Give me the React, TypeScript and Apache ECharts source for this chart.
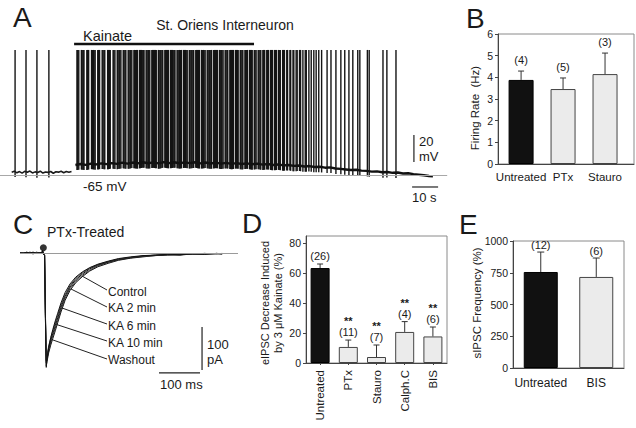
import React, { useEffect, useRef } from "react";
import * as echarts from "echarts";

const FONT = '"Liberation Sans", Arial, Helvetica, sans-serif';
const INK = "#1a1a1a";
const DARK_BAR = "#111111";
const LIGHT_BAR = "#ebebeb";

// ---------- Panel A: current-clamp trace (t in s, V in mV) ----------
const A_SPIKES = [
  0.8, 5.0, 9.2, 13.8,
  24.6, 24.9, 25.3, 26.3, 26.6, 27.0, 27.3, 28.4, 28.7, 29.1, 30.2, 30.5, 30.9, 31.2, 31.6, 32.6, 32.9,
  33.3, 34.3, 34.6, 35.0, 35.3, 36.4, 36.7, 37.1, 37.4, 38.5, 38.8, 39.2, 40.1, 40.4, 40.8, 41.1, 41.5,
  42.4, 42.7, 43.1, 43.4, 44.3, 44.6, 45.0, 45.3, 45.7, 46.5, 46.8, 47.2, 47.5, 47.9, 48.7, 49.0, 49.4,
  49.7, 50.1, 50.4, 51.2, 51.5, 51.9, 52.2, 52.6, 53.4, 53.7, 54.1, 54.4, 54.8, 55.1, 55.9, 56.2, 56.6,
  56.9, 57.3, 57.6, 58.4, 58.7, 59.1, 59.4, 59.8, 60.6, 60.9, 61.3, 61.6, 62.0, 62.3, 63.1, 63.4, 63.8,
  64.1, 64.5, 64.8, 65.6, 65.9, 66.3, 66.6, 67.0, 67.8, 68.1, 68.5, 68.8, 69.2, 69.5, 70.3, 70.6, 71.0,
  71.3, 71.7, 72.5, 72.8, 73.2, 73.5, 73.9, 74.7, 75.0, 75.4, 75.7, 76.1, 76.4, 77.2, 77.5, 77.9, 78.2,
  78.6, 79.4, 79.7, 80.1, 80.4, 80.8, 81.6, 81.9, 82.3, 82.6, 83.4, 83.7, 84.1, 84.4, 84.8, 85.6, 85.9,
  86.3, 86.6, 87.4, 87.7, 88.1, 88.4, 89.2, 89.5, 89.9, 90.2, 91.0, 91.3, 91.7, 92.0, 92.8, 93.1, 93.5,
  94.3, 94.6, 95.0, 95.3, 96.1, 96.4, 96.8, 97.6, 97.9, 98.3, 99.1, 99.4, 99.8, 100.6, 100.9, 101.3,
  102.1, 102.4, 102.8, 103.7, 104.0, 104.4, 105.3, 105.6, 106.5, 106.8, 107.7, 108.0, 108.9, 109.3,
  110.2, 110.6, 111.5, 112.4, 112.8, 113.8, 114.7, 115.7, 116.6, 117.6, 118.7,
  120.8, 122.3, 124.2, 126.1, 127.6, 129.2, 130.7, 132.6, 133.4,
  136.3, 137.0, 142.3, 143.8, 147.3,
];
const A_TRACE_PRE = [
  [-0.5, -62.9], [0.5, -62.2], [1.5, -63.4], [2.5, -62.5], [3.5, -63.6], [4.5, -62.3], [5.5, -63.0],
  [6.5, -62.1], [7.5, -63.5], [8.5, -62.7], [9.5, -63.2], [10.5, -62.2], [11.5, -63.6], [12.5, -62.8],
  [13.5, -63.1], [14.5, -62.4], [15.5, -63.7], [16.5, -62.6], [17.5, -62.9], [18.5, -62.3], [19.5, -63.3],
  [20.5, -62.5], [21.5, -63.0], [22.5, -62.4],
];
const A_TRACE_KA = [
  [24, -57.6], [26, -56.9], [28, -57.5], [30, -56.6], [32, -57.2], [34, -56.4], [36, -57.0], [38, -56.2],
  [40, -56.8], [42, -55.9], [44, -56.6], [46, -55.8], [48, -56.4], [50, -55.6], [52, -56.3], [54, -55.7],
  [56, -56.4], [58, -55.5], [60, -56.2], [62, -55.6], [64, -56.3], [66, -55.7], [68, -56.2], [70, -55.6],
  [72, -56.4], [74, -55.8], [76, -56.5], [78, -55.9], [80, -56.6], [82, -56.0], [84, -56.8], [86, -56.2],
  [88, -56.9], [90, -56.4], [92, -57.1], [94, -56.6], [96, -57.3], [98, -56.9], [100, -57.6], [102, -57.2],
  [104, -57.9], [106, -57.6], [108, -58.3], [110, -58.0], [112, -58.7], [114, -58.4], [116, -59.1],
  [118, -58.9], [120, -59.6], [122, -59.4], [124, -60.2], [126, -60.5], [128, -60.9], [130, -61.3],
  [132, -61.1], [134, -61.8], [136, -62.0], [138, -62.5], [140, -62.3], [142, -63.0], [144, -62.8],
  [146, -63.4], [148, -63.2], [150, -63.9], [152, -63.7], [154, -64.4], [156, -64.8], [158, -65.2],
  [160, -65.8], [161.5, -66.0],
];
const A_SPIKE_PEAK = 27.6;
const A_REST = -65;
const A_KAINATE = [[23.5, 32], [92.7, 32]];
const A_SCALE_V = [[154.2, -35.4], [154.2, -55.4]]; // 20 mV
const A_SCALE_T = [[153.5, -73.9], [163.5, -73.9]]; // 10 s

// ---------- Panel B ----------
const B_CATS = ["Untreated", "PTx", "Stauro"];
const B_MEAN = [3.88, 3.46, 4.15];
const B_ERR = [4.29, 3.97, 5.12];
const B_N = ["(4)", "(5)", "(3)"];

// ---------- Panel C: eIPSC traces (t in ms, I in pA) ----------
const C_T = [0, 8, 16, 24, 32, 40, 48, 53, 55, 57, 60, 62, 64, 66, 70, 75, 80, 86, 92, 100, 110, 122, 136, 152,
  170, 190, 215, 240, 270, 300, 330, 360, 390, 420, 450, 480, 493];
const C_CONTROL = [1, -1, 2, 0, -2, 1, 0, -1, 5, -2, -6, -150, -262, -252, -232, -214, -199, -181, -162, -137, -110, -87, -69, -55,
  -42, -32, -24, -17, -12, -9, -6, -4, -5, -2, -3, -1, -2];
const C_KA2 = [0, 1, -1, 2, 0, -1, 1, 0, 4, -1, -5, -145, -256, -246, -227, -209, -193, -175, -157, -132, -106, -83, -66, -52,
  -40, -30, -22, -16, -11, -8, -6, -5, -3, -3, -1, -2, -1];
const C_KA6 = [-1, 0, 1, -1, 1, 0, -1, 1, 5, -2, -6, -140, -252, -241, -221, -203, -187, -169, -151, -126, -101, -79, -62, -49,
  -37, -28, -21, -15, -11, -7, -5, -4, -4, -2, -2, -1, -2];
const C_KA10 = [1, 0, -1, 1, -1, 2, 0, -1, 4, -1, -5, -138, -249, -237, -216, -197, -181, -163, -145, -121, -97, -76, -59, -46,
  -35, -27, -20, -14, -10, -7, -5, -3, -3, -2, -1, -2, -1];
const C_WASH = [0, -1, 1, 0, 2, -1, 1, 0, 5, -2, -6, -152, -266, -248, -220, -197, -178, -158, -140, -116, -92, -72, -56, -44,
  -34, -26, -19, -13, -9, -6, -5, -3, -4, -2, -3, -1, -2];
const C_TRACES = [C_CONTROL, C_KA2, C_KA6, C_KA10, C_WASH];
const C_LABELS = ["Control", "KA 2 min", "KA 6 min", "KA 10 min", "Washout"];
const C_STIM = [[57, 12]];
const C_SCALE_I = [[444, -172], [444, -272]]; // 100 pA
const C_SCALE_T = [[339, -279], [439, -279]]; // 100 ms

// ---------- Panel D ----------
const D_CATS = ["Untreated", "PTx", "Stauro", "Calph.C", "BIS"];
const D_MEAN = [63.3, 10.7, 4.0, 20.7, 17.7];
const D_ERR = [66.0, 15.3, 12.0, 27.6, 24.0];
const D_N = ["(26)", "(11)", "(7)", "(4)", "(6)"];
const D_SIG = ["", "**", "**", "**", "**"];
const D_TICKS = [0, 20, 40, 60, 80];

// ---------- Panel E ----------
const E_CATS = ["Untreated", "BIS"];
const E_MEAN = [756, 717];
const E_ERR = [913, 866];
const E_N = ["(12)", "(6)"];

function baselineAt(t: number): number {
  const pts = t < 23 ? A_TRACE_PRE : A_TRACE_KA;
  if (t <= pts[0][0]) return pts[0][1];
  for (let i = 1; i < pts.length; i++) {
    if (t <= pts[i][0]) {
      const [t0, v0] = pts[i - 1];
      const [t1, v1] = pts[i];
      return v0 + ((v1 - v0) * (t - t0)) / (t1 - t0);
    }
  }
  return pts[pts.length - 1][1];
}

const txt = (text: string, x: number, y: number, size: number, opts: any = {}) => ({
  type: "text",
  x,
  y,
  rotation: opts.rotation || 0,
  silent: true,
  style: {
    text,
    fill: INK,
    font: `${opts.weight || "normal"} ${size}px ${FONT}`,
    textAlign: opts.align || "left",
    textVerticalAlign: "middle",
  },
});

const seg = (x1: number, y1: number, x2: number, y2: number) => ({
  type: "line",
  silent: true,
  shape: { x1, y1, x2, y2 },
  style: { stroke: "#222", lineWidth: 1 },
});

const plainLine = (xi: number, data: number[][], width = 1.2, color = "#222") => ({
  type: "line",
  xAxisIndex: xi,
  yAxisIndex: xi,
  data,
  symbol: "none",
  showSymbol: false,
  clip: false,
  silent: true,
  lineStyle: { color, width },
  z: 4,
});

function errSeries(idx: number, means: number[], errs: number[], ns: string[], sigs: string[] | null,
  capW: number, gap: number, fs: number) {
  return {
    type: "custom",
    xAxisIndex: idx,
    yAxisIndex: idx,
    data: errs.map((e, i) => [i, e]),
    z: 6,
    silent: true,
    renderItem: (params: any, api: any) => {
      const i = params.dataIndex;
      const x = api.value(0);
      const top = api.coord([x, errs[i]]);
      const base = api.coord([x, means[i]]);
      const children: any[] = [
        { type: "line", shape: { x1: base[0], y1: base[1], x2: top[0], y2: top[1] }, style: { stroke: "#333", lineWidth: 1 } },
        { type: "line", shape: { x1: top[0] - capW / 2, y1: top[1], x2: top[0] + capW / 2, y2: top[1] }, style: { stroke: "#333", lineWidth: 1 } },
        {
          type: "text", x: top[0], y: top[1] - gap,
          style: { text: ns[i], fill: INK, font: `${fs}px ${FONT}`, textAlign: "center", textVerticalAlign: "middle" },
        },
      ];
      if (sigs && sigs[i]) {
        children.push({
          type: "text", x: top[0], y: top[1] - gap - 11,
          style: { text: sigs[i], fill: INK, font: `bold ${fs}px ${FONT}`, textAlign: "center", textVerticalAlign: "middle" },
        });
      }
      return { type: "group", children };
    },
  };
}

const barItem = (v: any, i: number) => ({
  value: v,
  itemStyle: i === 0
    ? { color: DARK_BAR, borderColor: "#000", borderWidth: 1 }
    : { color: LIGHT_BAR, borderColor: "#444", borderWidth: 1 },
});

const frameGrid = (left: number, top: number, width: number, height: number, show = true) => ({
  left, top, width, height, show, borderColor: "#8a8a8a", borderWidth: 1,
  backgroundColor: "transparent", containLabel: false, outerBoundsMode: "none",
});

const valueY = (idx: number, min: number, max: number, interval: number, fs: number, extra: any = {}) => ({
  type: "value", gridIndex: idx, min, max, interval,
  axisLine: { show: true, onZero: false, lineStyle: { color: "#444", width: 1 } },
  axisTick: { show: true, length: 3, lineStyle: { color: "#444" }, ...(extra.tick || {}) },
  axisLabel: { fontSize: fs, fontFamily: FONT, color: INK, margin: 5, formatter: (v: number) => String(v), ...(extra.label || {}) },
  splitLine: { show: false },
});

export default function App() {
  const ref = useRef<HTMLDivElement>(null);

  useEffect(() => {
    if (!ref.current) return;
    const chart = echarts.init(ref.current, null, { renderer: "svg" });

    const option: any = {
      animation: false,
      backgroundColor: "#ffffff",
      grid: [
        frameGrid(0, 38.6, 447.2, 138.4, false), // A
        frameGrid(498, 34, 136, 130), // B
        frameGrid(20, 240.1, 218, 135.45, false), // C
        frameGrid(306, 236, 141, 127), // D
        frameGrid(513, 241, 111, 127), // E
      ],
      xAxis: [
        { type: "value", gridIndex: 0, min: -5, max: 167, show: false },
        {
          type: "value", gridIndex: 1, min: -0.55, max: 2.69,
          axisLine: { show: true, onZero: false, lineStyle: { color: "#444" } },
          axisTick: { show: false },
          splitLine: { show: false },
          axisLabel: {
            customValues: [0, 1, 2],
            formatter: (v: number) => B_CATS[Math.round(v)] ?? "",
            fontSize: 11.5, fontFamily: FONT, color: INK, margin: 7,
          },
        },
        { type: "value", gridIndex: 2, min: 0, max: 531.7, show: false },
        {
          type: "category", gridIndex: 3, data: D_CATS,
          axisLine: { show: true, onZero: false, lineStyle: { color: "#444" } },
          axisTick: { show: true, alignWithLabel: true, interval: 0, length: 2, lineStyle: { color: "#444" } },
          axisLabel: { rotate: 90, interval: 0, fontSize: 11.5, fontFamily: FONT, color: INK, margin: 7 },
          splitLine: { show: false },
        },
        {
          type: "category", gridIndex: 4, data: E_CATS,
          axisLine: { show: true, onZero: false, lineStyle: { color: "#444" } },
          axisTick: { show: false },
          axisLabel: { interval: 0, fontSize: 12, fontFamily: FONT, color: INK, margin: 9 },
          splitLine: { show: false },
        },
      ],
      yAxis: [
        { type: "value", gridIndex: 0, min: -66.5, max: 36, show: false },
        valueY(1, 0, 6, 1, 10.5),
        { type: "value", gridIndex: 2, min: -285, max: 30, show: false },
        valueY(3, 0, 84.67, 20, 10.5, {
          tick: { customValues: D_TICKS },
          label: { customValues: D_TICKS, formatter: (v: number) => (D_TICKS.includes(v) ? String(v) : "") },
        }),
        valueY(4, 0, 1000, 250, 10.5),
      ],
      series: [
        // ----- A -----
        {
          ...plainLine(0, A_TRACE_PRE, 1.6, "#1a1a1a"),
          markLine: {
            silent: true, symbol: "none", label: { show: false },
            lineStyle: { color: "#a8a8a8", width: 1, type: "solid" },
            data: [{ yAxis: A_REST }],
          },
        },
        plainLine(0, A_TRACE_KA, 2.4, "#111"),
        {
          type: "custom",
          xAxisIndex: 0,
          yAxisIndex: 0,
          silent: true,
          z: 3,
          data: A_SPIKES.map((t) => [t, baselineAt(t) - 4]),
          renderItem: (params: any, api: any) => {
            const t = api.value(0);
            const p1 = api.coord([t, api.value(1)]);
            const p2 = api.coord([t, A_SPIKE_PEAK]);
            return {
              type: "line",
              shape: { x1: p1[0], y1: p1[1], x2: p2[0], y2: p2[1] },
              style: { stroke: "#141414", lineWidth: 1.4 },
            };
          },
        },
        plainLine(0, A_KAINATE, 2.5, "#111"),
        plainLine(0, A_SCALE_V, 1.2),
        plainLine(0, A_SCALE_T, 1.2),
        // ----- B -----
        {
          type: "bar", xAxisIndex: 1, yAxisIndex: 1, barWidth: 25, silent: true,
          data: B_MEAN.map((m, i) => barItem([i, m], i)),
        },
        errSeries(1, B_MEAN, B_ERR, B_N, null, 6, 11, 11),
        // ----- C -----
        ...C_TRACES.map((tr, k) => ({
          ...plainLine(2, C_T.map((t, i) => [t, tr[i]]), 1, k % 2 ? "#333" : "#111"),
          clip: true,
          ...(k === 0
            ? {
                markLine: {
                  silent: true, symbol: "none", label: { show: false },
                  lineStyle: { color: "#9a9a9a", width: 1, type: "solid" },
                  data: [{ yAxis: 0 }],
                },
              }
            : {}),
        })),
        {
          type: "scatter", xAxisIndex: 2, yAxisIndex: 2, data: C_STIM, symbol: "circle",
          symbolSize: 7, itemStyle: { color: "#000" }, silent: true, z: 6,
        },
        plainLine(2, C_SCALE_I, 1.2),
        plainLine(2, C_SCALE_T, 1.2),
        // ----- D -----
        {
          type: "bar", xAxisIndex: 3, yAxisIndex: 3, barWidth: 19, silent: true,
          data: D_MEAN.map((m, i) => barItem(m, i)),
        },
        errSeries(3, D_MEAN, D_ERR, D_N, D_SIG, 6, 8, 11),
        // ----- E -----
        {
          type: "bar", xAxisIndex: 4, yAxisIndex: 4, barWidth: 34, silent: true,
          data: E_MEAN.map((m, i) => barItem(m, i)),
        },
        errSeries(4, E_MEAN, E_ERR, E_N, null, 7, 7, 11),
      ],
      graphic: [
        // Panel A
        txt("A", 13, 17, 28),
        txt("St. Oriens Interneuron", 225, 25, 14, { align: "center" }),
        txt("Kainate", 83, 36, 14.5),
        txt("-65 mV", 83, 186, 13.5),
        txt("20", 419, 141, 13),
        txt("mV", 419, 156, 13),
        txt("10 s", 412, 197, 13),
        // Panel B
        txt("B", 466, 18, 28),
        txt("Firing Rate  (Hz)", 475, 108, 11.5, { align: "center", rotation: Math.PI / 2 }),
        // Panel C
        txt("C", 13, 224, 28),
        txt("PTx-Treated", 47, 232, 14),
        ...C_LABELS.map((l, i) => txt(l, 108, [292, 308, 326, 343, 360][i], 12)),
        seg(107, 290, 82, 276),
        seg(107, 307, 71, 289),
        seg(107, 324, 62, 308),
        seg(107, 341, 55, 324),
        seg(107, 359, 53, 340),
        txt("100", 207, 344, 13),
        txt("pA", 207, 359, 13),
        txt("100 ms", 160, 384, 13),
        // Panel D
        txt("D", 242, 223, 28),
        txt("eIPSC Decrease Induced", 265, 303, 11, { align: "center", rotation: Math.PI / 2 }),
        txt("by 3 \u03bcM Kainate (%)", 278, 303, 11, { align: "center", rotation: Math.PI / 2 }),
        // Panel E
        txt("E", 459, 224, 28),
        txt("sIPSC Frequency (%)", 477, 303, 11.5, { align: "center", rotation: Math.PI / 2 }),
      ],
    };

    chart.setOption(option);
    return () => chart.dispose();
  }, []);

  return (
    <div
      ref={ref}
      style={{ position: "fixed", left: 0, top: 0, width: 636, height: 428, background: "#fff" }}
    />
  );
}
